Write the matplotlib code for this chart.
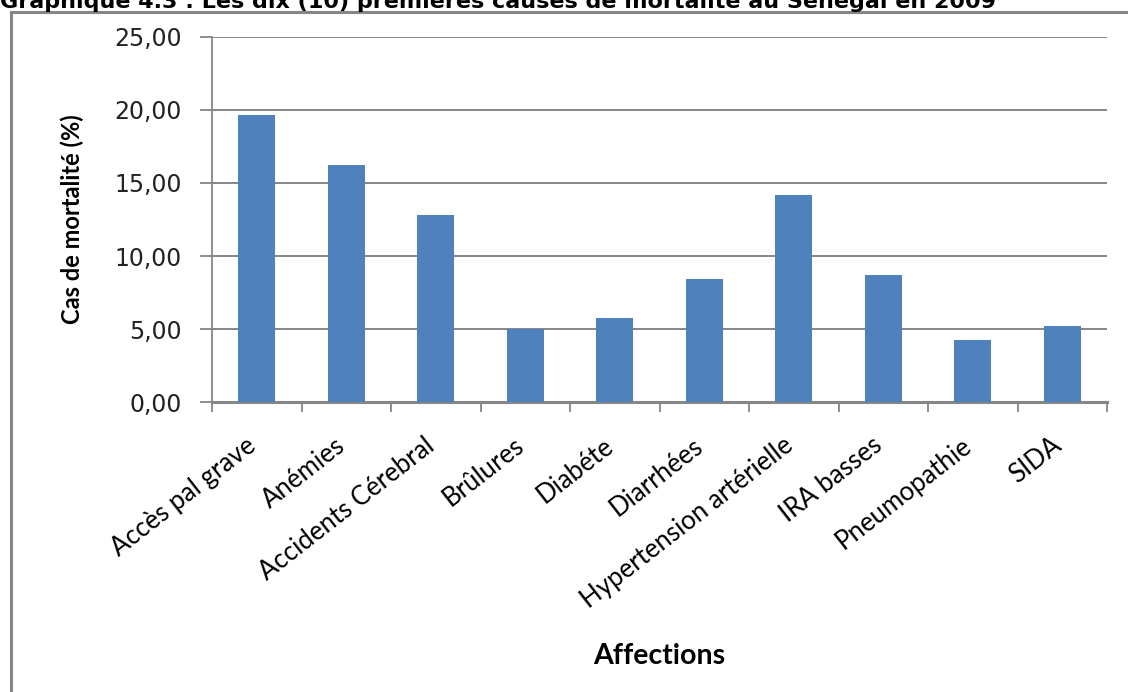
import matplotlib
matplotlib.use("Agg")
import matplotlib.pyplot as plt
import matplotlib.patches as mpatches
import matplotlib.transforms as mtransforms
import numpy as np

# data
affections = ["Accès pal grave", "Anémies", "Accidents Cérebral", "Brûlures",
              "Diabéte", "Diarrhées", "Hypertension artérielle", "IRA basses",
              "Pneumopathie", "SIDA"]
mortalite = [19.65, 16.22, 12.80, 5.02, 5.79, 8.41, 14.18, 8.68, 4.28, 5.24]
yticks = [0, 5, 10, 15, 20, 25]
ytick_labels = ["0,00", "5,00", "10,00", "15,00", "20,00", "25,00"]

title = "Graphique 4.3 : Les dix (10) premières causes de mortalité au Sénégal en 2009"

W, H = 1128, 692
fig = plt.figure(figsize=(W / 100, H / 100), dpi=100)
fig.patch.set_facecolor("white")

gray = "#868686"
blue = "#4F81BD"

# outer chart frame (cut by the page on the right and bottom)
frame = mpatches.Rectangle((11 / W, -0.1), 1.2, 1 - 12 / H + 0.1,
                           transform=fig.transFigure, fill=False,
                           edgecolor=gray, linewidth=2.2, clip_on=False)
fig.patches.append(frame)

# title, top half cut off by the crop as in the source page
fig.text(0.0, 1 - 7.5 / H, title, ha="left", va="baseline",
         fontsize=16, fontweight="bold", family="DejaVu Sans", color="black")

ax = fig.add_axes([212 / W, 1 - 402.3 / H, (1107 - 212) / W, (402.3 - 36.7) / H])
x = np.arange(len(affections))
ax.bar(x, mortalite, width=0.41, color=blue, zorder=3)

ax.set_xlim(-0.5, len(affections) - 0.5)
ax.set_ylim(0, 25)

ax.set_yticks(yticks)
ax.set_yticklabels(ytick_labels, family="DejaVu Sans", fontsize=17, color="#222222")
ax.tick_params(axis="y", length=9, width=1.3, color=gray, pad=13)
ax.yaxis.grid(True, color=gray, linewidth=1.4, zorder=0)
ax.set_axisbelow(True)

# the source image is stretched sideways, so the 45 degree labels look flatter
ax.set_xticks(x)
ax.set_xticklabels(affections, rotation=38, ha="right", va="center",
                   rotation_mode="anchor", family="Lato", fontsize=18.5)
ax.tick_params(axis="x", which="major", length=0, pad=29)
shift = mtransforms.ScaledTranslation(-4 / 100, 0, fig.dpi_scale_trans)
for lab in ax.get_xticklabels():
    lab.set_transform(lab.get_transform() + shift)
ax.set_xticks(np.arange(-0.5, len(affections)), minor=True)
ax.tick_params(axis="x", which="minor", length=7, width=1.3, color=gray)

for s in ["top", "right"]:
    ax.spines[s].set_visible(False)
ax.spines["left"].set_color(gray)
ax.spines["left"].set_linewidth(1.3)
ax.spines["bottom"].set_color(gray)
ax.spines["bottom"].set_linewidth(2.2)

ax.set_ylabel("Cas de mortalité (%)", family="Lato", fontweight="bold", fontsize=17)
ax.yaxis.set_label_coords(-128 / (1107 - 212), 0.5)
ax.set_xlabel("Affections", family="Lato", fontweight="bold", fontsize=20.5)
ax.xaxis.set_label_coords(0.5, -(643 - 402.3) / (402.3 - 36.7))

fig.savefig("out.png", dpi=100, facecolor="white")
